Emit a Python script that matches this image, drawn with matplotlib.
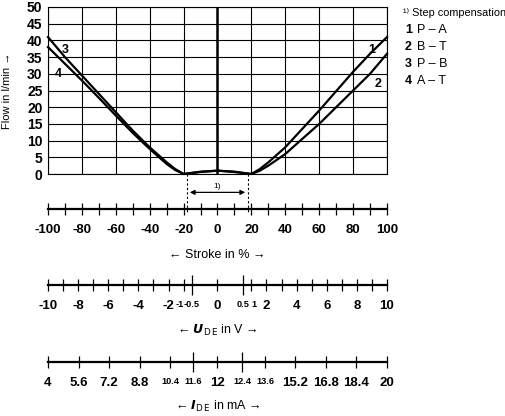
import matplotlib
matplotlib.use("Agg")
import matplotlib.pyplot as plt
import numpy as np

plt.rcParams['font.family'] = ['Liberation Sans', 'DejaVu Sans']

stroke = [-100, -90, -80, -70, -60, -50, -40, -30, -25, -20, -10, 0, 10, 20, 25, 30, 40, 50, 60, 70, 80, 90, 100]
flow_1 = [None]*11 + [1.0, 0.7, 0.0, 1.5, 3.5, 8.0, 13.5, 19.0, 24.8, 30.6, 36.0, 41.0]
flow_2 = [None]*11 + [1.0, 0.6, 0.0, 1.0, 2.5, 6.0, 10.5, 15.0, 20.0, 25.0, 30.0, 36.0]
flow_3 = [41.0, 35.0, 29.5, 24.0, 18.5, 13.0, 8.0, 3.5, 1.5, 0.0, 0.7, 1.0] + [None]*11
flow_4 = [38.0, 33.0, 28.0, 22.8, 17.5, 12.3, 7.5, 3.0, 1.2, 0.0, 0.6, 1.0] + [None]*11

volt_labels = ['-10', '-8', '-6', '-4', '-2', '-1', '0', '1', '2', '4', '6', '8', '10']
volt_values = [-10, -8, -6, -4, -2, -1, 0, 1, 2, 4, 6, 8, 10]
volt_minor = [-9, -7, -5, -3, 3, 5, 7, 9]
volt_long = [-0.5, 0.5]
cur_values = [4, 5.6, 7.2, 8.8, 10.4, 12, 13.6, 15.2, 16.8, 18.4, 20]
cur_long = [11.6, 12.4]
small_labels = {'-1', '1', '-0.5', '0.5', '10.4', '11.6', '12.4', '13.6'}

def v2s(v):
    if abs(v) <= 1:
        return 20 * v if abs(v) == 1 else (30 * v if abs(v) == 0.5 else 0)
    return np.sign(v) * (20 + (abs(v) - 1) * 80 / 9)

def i2s(i):
    d = i - 12
    if abs(d) == 0.4:
        return np.sign(d) * 15
    return np.sign(d) * (28 + (abs(d) - 1.6) * 72 / 6.4) if d != 0 else 0

W, H = 506, 416
fig = plt.figure(figsize=(W/100, H/100), dpi=100)
L, R = 48/W, 387/W
ax = fig.add_axes([L, 1-174/H, R-L, 167/H])
ax.set_xlim(-100, 100); ax.set_ylim(0, 50)
ax.set_xticks(np.arange(-100, 101, 20)); ax.set_xticklabels([])
ax.set_yticks(range(0, 51, 5))
ax.tick_params(axis='y', length=0, labelsize=10, pad=4)
for t in ax.get_yticklabels(): t.set_fontweight('bold')
ax.tick_params(axis='x', length=0)
ax.grid(True, color='black', lw=0.8)
for s in ax.spines.values(): s.set_linewidth(0.8)
ax.set_ylabel('Flow in l/min →', fontsize=8)
ax.yaxis.set_label_coords(-0.105, 0.5)

def seg(y):
    xs = [x for x, v in zip(stroke, y) if v is not None]
    vs = [v for v in y if v is not None]
    return xs, vs
for y in (flow_1, flow_2, flow_3, flow_4):
    xs, vs = seg(y)
    ax.plot(xs, vs, color='black', lw=1.6, clip_on=False)
ax.plot([0, 0], [0, 50], color='black', lw=1.8)
for x, y, t in [(91, 37, '1'), (95, 27, '2'), (-90, 37, '3'), (-94, 30, '4')]:
    ax.text(x, y, t, fontsize=9, fontweight='bold', ha='center', va='center')

# legend
fig.text(403/W, 1-13/H, '¹⁾ Step compensation', fontsize=7.8, va='center')
for k, (n, t) in enumerate([('1', 'P – A'), ('2', 'B – T'), ('3', 'P – B'), ('4', 'A – T')]):
    yy = 1 - (30 + 17*k)/H
    fig.text(405/W, yy, n, fontsize=9, fontweight='bold', va='center')
    fig.text(417/W, yy, t, fontsize=9, va='center')

def scale_ax(ypix):
    a = fig.add_axes([L, 1-ypix/H, R-L, 0.0001])
    a.set_xlim(-100, 100)
    a.set_yticks([])
    for s in ('left', 'right', 'top'): a.spines[s].set_visible(False)
    a.spines['bottom'].set_linewidth(1.6)
    a.tick_params(axis='x', which='both', direction='inout', width=0.9, labelsize=9.5)
    a.tick_params(axis='x', which='major', length=9, pad=6)
    a.tick_params(axis='x', which='minor', length=15, pad=3)
    return a

def style(a):
    for t in a.get_xticklabels(which='both'):
        t.set_fontweight('bold')
        if t.get_text() in small_labels:
            t.set_fontsize(6.6)

# stroke axis
a1 = scale_ax(209)
pos = list(range(-100, 101, 10))
a1.set_xticks(pos, [str(p) if p % 20 == 0 else '' for p in pos])
style(a1)
fig.text(0.5*(L+R), 1-255/H, '← Stroke in % →', fontsize=9, ha='center', va='center')

# dashed lines and arrow
for xd in (-18, 18):
    ax.plot([xd, xd], [0, -12], ls=(0, (2, 2)), color='black', lw=0.8, clip_on=False)
ax.annotate('', xy=(-18, -5.5), xytext=(18, -5.5), xycoords='data',
            arrowprops=dict(arrowstyle='<|-|>', color='black', lw=0.9, mutation_scale=7), annotation_clip=False)
ax.text(0, -3.8, '1)', fontsize=6, ha='center', va='center')

# voltage axis
a2 = scale_ax(285)
a2.set_xticks([v2s(v) for v in volt_values] + [v2s(v) for v in volt_minor],
              volt_labels + ['']*len(volt_minor))
a2.set_xticks([v2s(v) for v in volt_long], ['-0.5', '0.5'], minor=True)
style(a2)
for t in a2.get_xticklabels():
    if t.get_text() == '-1':
        t.set_ha('right'); t.set_x(v2s(-1) + 1)
    if t.get_text() == '1':
        t.set_ha('left'); t.set_x(v2s(1) - 1)
fig.text(0.5*(L+R), 1-330/H, r'← $\boldsymbol{U}_{\mathrm{D\,E}}$ in V →', fontsize=9, ha='center', va='center')

# current axis
a3 = scale_ax(362)
a3.set_xticks([i2s(i) for i in cur_values], [('%g' % c) for c in cur_values])
a3.set_xticks([i2s(i) for i in cur_long], ['11.6', '12.4'], minor=True)
style(a3)
fig.text(0.5*(L+R), 1-406/H, r'← $\boldsymbol{I}_{\mathrm{D\,E}}$ in mA →', fontsize=9, ha='center', va='center')

fig.savefig('out.png', dpi=100)
